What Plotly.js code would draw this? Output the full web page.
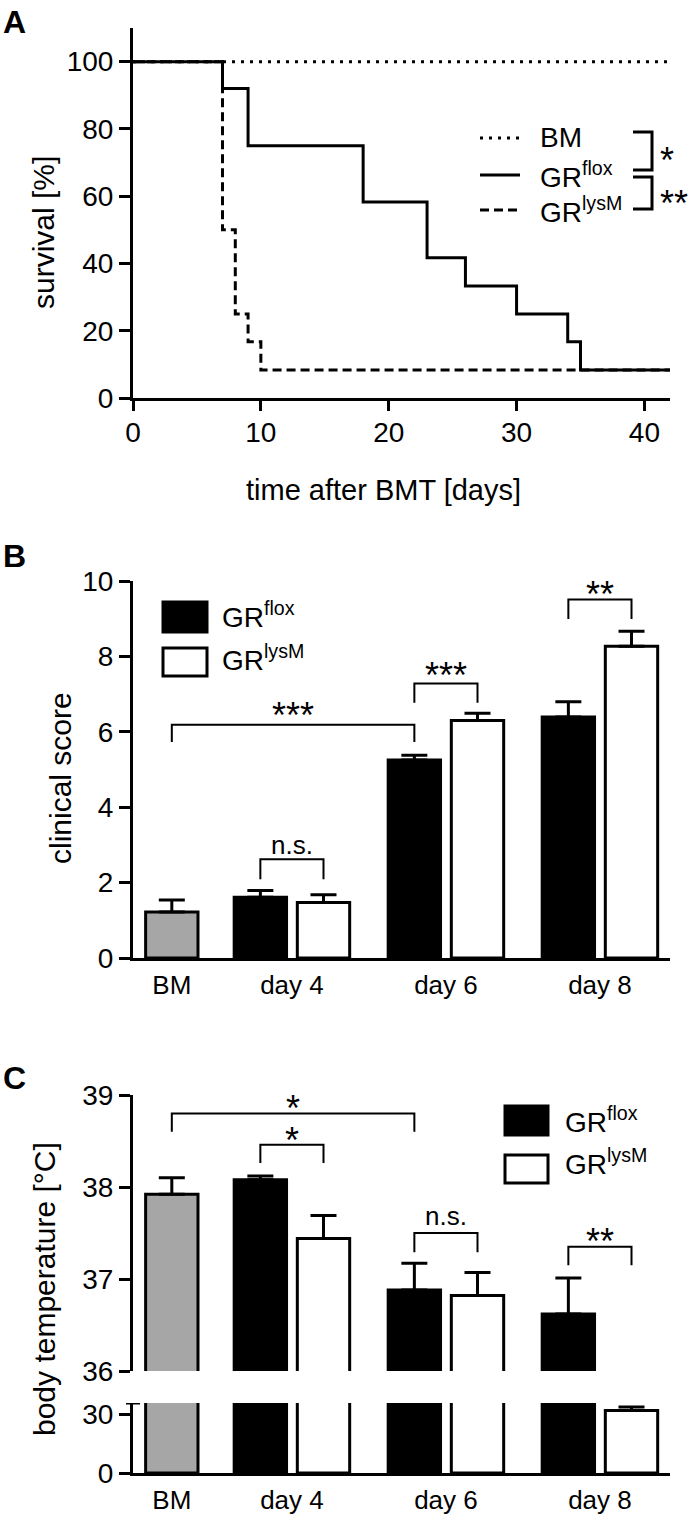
<!DOCTYPE html>
<html><head><meta charset="utf-8">
<script src="https://cdn.plot.ly/plotly-3.0.1.min.js"></script>
<style>html,body{margin:0;padding:0;background:#fff;} #chart{width:689px;height:1517px;}</style>
</head><body><div id="chart"></div>
<script>
// ---------- Panel A: survival ----------
const timeBM = [0, 42];
const survBM = [100, 100];
const timeFlox = [0, 7, 9, 18, 23, 26, 30, 34, 35, 42];
const survFlox = [100, 92, 75, 58.3, 41.7, 33.3, 25, 16.7, 8.3, 8.3];
const timeLysM = [0, 7, 8, 9, 10, 42];
const survLysM = [100, 50, 25, 16.7, 8.3, 8.3];
const survTicks = [0, 20, 40, 60, 80, 100];
const timeTicks = [0, 10, 20, 30, 40];

// ---------- Panel B: clinical score ----------
const categories = ['BM', 'day 4', 'day 6', 'day 8'];
const scoreBM = [1.22];
const scoreBMsem = [0.32];
const scoreFlox = [1.61, 5.25, 6.39];
const scoreFloxSem = [0.18, 0.13, 0.41];
const scoreLysM = [1.47, 6.30, 8.27];
const scoreLysMSem = [0.21, 0.19, 0.40];
const scoreTicks = [0, 2, 4, 6, 8, 10];

// ---------- Panel C: body temperature ----------
const tempBM = [37.92];
const tempBMsem = [0.18];
const tempFlox = [38.08, 36.88, 36.62];
const tempFloxSem = [0.04, 0.29, 0.39];
const tempLysM = [37.44, 36.82, 32.1];
const tempLysMSem = [0.25, 0.25, 1.9];
const tempTicksLow = [0, 30];
const tempTicksHigh = [36, 37, 38, 39];

// ---------- layout helpers ----------
const W = 689, H = 1517;
const px = v => v / W;
const py = v => 1 - v / H;
const FONT = 'Liberation Sans, Arial, Helvetica, sans-serif';
const catPos = [0.22, 1, 2, 3];          // group centres on the numeric x axis
const dayPos = catPos.slice(1);
const BW = 0.34, GAP = 0.035;
const GRAY = '#a6a6a6';

function bars(x, y, sem, color, offset, xa, ya) {
  return {
    type: 'bar', x: x, y: y, width: BW, offset: offset,
    marker: {color: color, line: {color: '#000', width: 3}},
    error_y: {type: 'data', symmetric: false, array: sem, arrayminus: sem.map(() => 0),
              color: '#000', thickness: 3, width: 13},
    xaxis: xa, yaxis: ya, showlegend: false, hoverinfo: 'skip'
  };
}
function stepLine(x, y, dash) {
  return {type: 'scatter', mode: 'lines', x: x, y: y, xaxis: 'x', yaxis: 'y',
          line: {shape: 'hv', color: '#000', width: 3, dash: dash}, showlegend: false, hoverinfo: 'skip'};
}

const data = [
  stepLine(timeBM, survBM, '3px,6px'),
  stepLine(timeFlox, survFlox, 'solid'),
  stepLine(timeLysM, survLysM, '9px,5px'),
  bars([catPos[0]], scoreBM, scoreBMsem, GRAY, -BW / 2, 'x2', 'y2'),
  bars(dayPos, scoreFlox, scoreFloxSem, '#000', -BW - GAP, 'x2', 'y2'),
  bars(dayPos, scoreLysM, scoreLysMSem, '#fff', GAP, 'x2', 'y2'),
  bars([catPos[0]], tempBM, tempBMsem, GRAY, -BW / 2, 'x3', 'y3'),
  bars(dayPos, tempFlox, tempFloxSem, '#000', -BW - GAP, 'x3', 'y3'),
  bars(dayPos, tempLysM, tempLysMSem, '#fff', GAP, 'x3', 'y3'),
  bars([catPos[0]], tempBM, tempBMsem, GRAY, -BW / 2, 'x3', 'y4'),
  bars(dayPos, tempFlox, tempFloxSem, '#000', -BW - GAP, 'x3', 'y4'),
  bars(dayPos, tempLysM, tempLysMSem, '#fff', GAP, 'x3', 'y4')
];

const axBase = {
  showline: true, linewidth: 3, linecolor: '#000', showgrid: false, zeroline: false,
  ticks: 'outside', ticklen: 11, tickwidth: 3, tickcolor: '#000',
  tickfont: {family: FONT, size: 28, color: '#000'}, fixedrange: true
};
const xDom = [px(133), px(670)];
const xRange = [-0.032, 3.455];
const catFont = {family: FONT, size: 26, color: '#000'};

const layout = {
  width: W, height: H, margin: {l: 0, r: 0, t: 0, b: 0},
  paper_bgcolor: '#fff', plot_bgcolor: 'rgba(0,0,0,0)',
  font: {family: FONT, color: '#000'},
  barmode: 'overlay', showlegend: false,
  xaxis: Object.assign({}, axBase, {domain: xDom, range: [0, 42], anchor: 'y', tickvals: timeTicks,
    ticklen: 10, ticklabelstandoff: -3}),
  yaxis: Object.assign({}, axBase, {domain: [py(398), py(28)], range: [0, 110], anchor: 'x', tickvals: survTicks}),
  xaxis2: Object.assign({}, axBase, {domain: xDom, range: xRange, anchor: 'y2', tickvals: catPos,
    ticktext: categories, ticks: '', ticklabelstandoff: 2, tickfont: catFont}),
  yaxis2: Object.assign({}, axBase, {domain: [py(958), py(581)], range: [0, 10], anchor: 'x2', tickvals: scoreTicks}),
  xaxis3: Object.assign({}, axBase, {domain: xDom, range: xRange, anchor: 'y3', tickvals: catPos,
    ticktext: categories, ticks: '', ticklabelstandoff: 2, tickfont: catFont}),
  yaxis3: Object.assign({}, axBase, {domain: [py(1473), py(1403)], range: [0, 36], anchor: 'x3', tickvals: tempTicksLow}),
  yaxis4: Object.assign({}, axBase, {domain: [py(1371), py(1095)], range: [36, 39], anchor: 'x3', tickvals: tempTicksHigh}),
  shapes: [],
  annotations: []
};

const S = layout.shapes, A = layout.annotations;
function bracket(xa, ya, x0, x1, yTop, yLeg, w) {
  S.push({type: 'path', xref: xa, yref: ya,
    path: `M${x0},${yLeg} L${x0},${yTop} L${x1},${yTop} L${x1},${yLeg}`,
    line: {color: '#000', width: w || 2}});
}
function text(t, x, y, size, opts) {
  A.push(Object.assign({text: t, x: x, y: y, xref: 'paper', yref: 'paper', showarrow: false,
    font: {family: FONT, size: size, color: '#000'}, xanchor: 'center', yanchor: 'middle'}, opts || {}));
}
// significance stars: compact box around the glyphs (asterisks sit high in the em box)
function stars(t, x, y, xref, yref) {
  A.push({text: t, x: x, y: y, xref: xref, yref: yref, showarrow: false, height: 24, valign: 'top',
    font: {family: FONT, size: 36, color: '#000'}, xanchor: 'center', yanchor: 'middle'});
}
const floxC = p => p - BW / 2 - GAP;   // centre of left bar of a pair
const lysC = p => p + BW / 2 + GAP;

// panel letters
text('<b>A</b>', px(1), py(22), 32, {xanchor: 'left'});
text('<b>B</b>', px(1), py(556), 32, {xanchor: 'left'});
text('<b>C</b>', px(1), py(1078), 32, {xanchor: 'left'});

// axis titles
text('time after BMT [days]', px(383), py(490), 29);
text('survival [%]', px(44), py(233), 30, {textangle: -90});
text('clinical score', px(60), py(778), 30, {textangle: -90});
text('body temperature [°C]', px(44), py(1289), 30, {textangle: -90});

// ---- Panel A legend ----
const legA = [
  {name: 'BM', dash: '3px,6px', y: 138},
  {name: 'GR<sup>flox</sup>', dash: 'solid', y: 175},
  {name: 'GR<sup>lysM</sup>', dash: '9px,5px', y: 210}
];
legA.forEach(l => {
  S.push({type: 'line', xref: 'paper', yref: 'paper', x0: px(480), x1: px(520), y0: py(l.y), y1: py(l.y),
    line: {color: '#000', width: 3, dash: l.dash}});
  text(l.name, px(538), py(l.y), 28, {xanchor: 'left'});
});
S.push({type: 'path', xref: 'paper', yref: 'paper',
  path: `M${px(633)},${py(132)} L${px(652)},${py(132)} L${px(652)},${py(170)} L${px(633)},${py(170)}`,
  line: {color: '#000', width: 3}});
S.push({type: 'path', xref: 'paper', yref: 'paper',
  path: `M${px(633)},${py(177)} L${px(652)},${py(177)} L${px(652)},${py(209)} L${px(633)},${py(209)}`,
  line: {color: '#000', width: 3}});
stars('*', px(667), py(152), 'paper', 'paper');
stars('**', px(674), py(195), 'paper', 'paper');

// ---- Panel B brackets ----
bracket('x2', 'y2', catPos[0], floxC(2), 6.19, 5.73);
bracket('x2', 'y2', floxC(1), lysC(1), 2.62, 2.09);
bracket('x2', 'y2', floxC(2), lysC(2), 7.28, 6.77);
bracket('x2', 'y2', floxC(3), lysC(3), 9.51, 8.99);
stars('***', (catPos[0] + floxC(2)) / 2, 6.65, 'x2', 'y2');
A.push({text: 'n.s.', x: 1, y: 3.0, xref: 'x2', yref: 'y2', showarrow: false,
  font: {family: FONT, size: 26, color: '#000'}, yanchor: 'middle'});
stars('***', 2, 7.71, 'x2', 'y2');
stars('**', 3, 9.88, 'x2', 'y2');

// ---- Panel B legend ----
S.push({type: 'rect', xref: 'paper', yref: 'paper', x0: px(163), x1: px(207), y0: py(632), y1: py(602),
  fillcolor: '#000', line: {color: '#000', width: 3}});
S.push({type: 'rect', xref: 'paper', yref: 'paper', x0: px(163), x1: px(207), y0: py(676), y1: py(648),
  fillcolor: '#fff', line: {color: '#000', width: 3}});
text('GR<sup>flox</sup>', px(220), py(615), 28, {xanchor: 'left'});
text('GR<sup>lysM</sup>', px(220), py(658), 28, {xanchor: 'left'});

// ---- Panel C brackets ----
bracket('x3', 'y4', catPos[0], floxC(2), 38.80, 38.60);
bracket('x3', 'y4', floxC(1), lysC(1), 38.46, 38.26);
bracket('x3', 'y4', floxC(2), lysC(2), 37.50, 37.29);
bracket('x3', 'y4', floxC(3), lysC(3), 37.35, 37.15);
stars('*', (catPos[0] + floxC(2)) / 2, 38.95, 'x3', 'y4');
stars('*', 1, 38.60, 'x3', 'y4');
A.push({text: 'n.s.', x: 2, y: 37.69, xref: 'x3', yref: 'y4', showarrow: false,
  font: {family: FONT, size: 26, color: '#000'}, yanchor: 'middle'});
stars('**', 3, 37.50, 'x3', 'y4');

// ---- Panel C legend ----
S.push({type: 'rect', xref: 'paper', yref: 'paper', x0: px(505), x1: px(548), y0: py(1135), y1: py(1106),
  fillcolor: '#000', line: {color: '#000', width: 3}});
S.push({type: 'rect', xref: 'paper', yref: 'paper', x0: px(505), x1: px(548), y0: py(1183), y1: py(1155),
  fillcolor: '#fff', line: {color: '#000', width: 3}});
text('GR<sup>flox</sup>', px(563), py(1120), 28, {xanchor: 'left'});
text('GR<sup>lysM</sup>', px(563), py(1162), 28, {xanchor: 'left'});

// break cap on the lower temperature axis
S.push({type: 'line', xref: 'paper', yref: 'y3', x0: px(126), x1: px(140), y0: 36, y1: 36,
  line: {color: '#000', width: 3}});

Plotly.newPlot('chart', data, layout, {staticPlot: true, displayModeBar: false});
</script></body></html>
